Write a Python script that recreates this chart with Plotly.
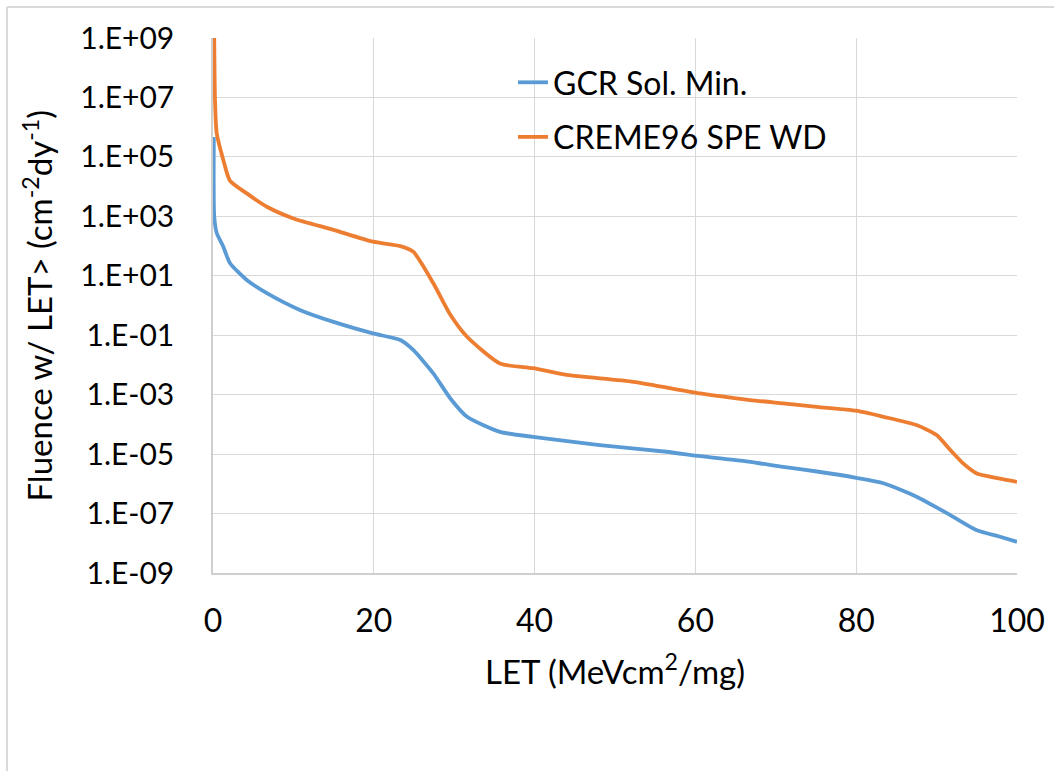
import plotly.graph_objects as go

# LET (MeV cm^2/mg) sample points and integral fluence (cm^-2 d^-1 y^-1)
gcr_let = [0.1, 0.15, 0.46, 1.28, 2.1, 4.2, 6.7, 10.8, 15.0, 19.9, 23.3, 24.9, 27.4,
           29.5, 31.6, 35.7, 39.8, 48.1, 56.4, 60.6, 66.8, 70.9, 75.1, 80.0, 83.4,
           87.5, 91.7, 95.0, 97.9, 100]
gcr_fluence = [4.7e5, 1.0e3, 275, 95, 27, 7.2, 2.6, 0.71, 0.28, 0.115, 0.069, 0.032,
               5.2e-3, 7.6e-4, 1.8e-4, 5.6e-5, 3.8e-5, 2.0e-5, 1.2e-5, 8.5e-6, 5.5e-6,
               3.7e-6, 2.6e-6, 1.6e-6, 1.05e-6, 3.7e-7, 8.9e-8, 2.75e-8, 1.66e-8, 1.12e-8]

spe_let = [0.15, 0.25, 0.46, 1.28, 2.1, 4.2, 6.7, 10.0, 15.0, 19.9, 23.3, 24.9, 27.4,
           29.5, 31.6, 35.7, 39.8, 44.0, 52.3, 60.6, 66.8, 70.9, 75.1, 80.0, 83.4,
           87.5, 90.0, 91.7, 93.3, 95.0, 97.9, 100]
spe_fluence = [1.0e9, 8.1e6, 6.2e5, 7.9e4, 1.6e4, 5.9e3, 2.1e3, 850, 350, 140, 100, 65,
               5.6, 0.5, 0.089, 0.0112, 7.8e-3, 4.6e-3, 2.7e-3, 1.1e-3, 6.6e-4, 5.1e-4,
               3.9e-4, 2.9e-4, 1.8e-4, 9.5e-5, 4.4e-5, 1.38e-5, 4.9e-6, 2.24e-6, 1.5e-6,
               1.17e-6]

series_names = ["GCR Sol. Min.", "CREME96 SPE WD"]
series_colors = ["#5B9BD5", "#ED7D31"]

y_tickvals = [1e-9, 1e-7, 1e-5, 1e-3, 1e-1, 1e1, 1e3, 1e5, 1e7, 1e9]
y_ticktext = ["1.E-09", "1.E-07", "1.E-05", "1.E-03", "1.E-01",
              "1.E+01", "1.E+03", "1.E+05", "1.E+07", "1.E+09"]
x_tickvals = [0, 20, 40, 60, 80, 100]

x_title = "LET (MeVcm<sup>2</sup>/mg)"
y_title = "Fluence w/ LET> (cm<sup>-2</sup>dy<sup>-1</sup>)"

FONT = "Lato"
GRID = "#d9d9d9"

fig = go.Figure()
for i, (xs, ys) in enumerate([(gcr_let, gcr_fluence), (spe_let, spe_fluence)]):
    fig.add_trace(go.Scatter(
        x=xs, y=ys, mode="lines", name=series_names[i],
        legendgroup=series_names[i],
        line=dict(color=series_colors[i], width=3.8, shape="spline", smoothing=0.6),
    ))

W, H = 1054, 771
L, R, T, B = 213, 37, 38, 198
pw, ph = W - L - R, H - T - B


def px_to_paper(px, py):
    return (px - L) / pw, (H - B - py) / ph


# outer frame (top and left edges)
x0, y0 = px_to_paper(7, 7)
x1, _ = px_to_paper(W + 2, 7)
_, y1 = px_to_paper(7, H + 2)
fig.add_shape(type="line", xref="paper", yref="paper", x0=x0, y0=y0, x1=x1, y1=y0,
              line=dict(color=GRID, width=2), layer="below")
fig.add_shape(type="line", xref="paper", yref="paper", x0=x0, y0=y0, x1=x0, y1=y1,
              line=dict(color=GRID, width=2), layer="below")

# vertical axis title, placed in the left margin
tx, _ = px_to_paper(37, 0)
fig.add_annotation(text=y_title, xref="paper", yref="paper", x=tx, y=0.5,
                   xanchor="center", yanchor="middle", textangle=-90,
                   showarrow=False, font=dict(family=FONT, size=33, color="black"))

lx, ly = px_to_paper(513, 55)
fig.update_layout(
    width=W, height=H,
    margin=dict(l=L, r=R, t=T, b=B, autoexpand=False),
    paper_bgcolor="white", plot_bgcolor="white",
    font=dict(family=FONT, size=32, color="black"),
    showlegend=True,
    legend=dict(x=lx, y=ly, xanchor="left", yanchor="top",
                font=dict(family=FONT, size=32, color="black"),
                traceorder="grouped", tracegroupgap=10,
                bgcolor="rgba(0,0,0,0)", borderwidth=0),
    xaxis=dict(
        range=[0, 100], tickvals=x_tickvals, automargin=True,
        showgrid=True, gridcolor=GRID, gridwidth=1,
        showline=True, linecolor="#cfcfcf", linewidth=1.5,
        zeroline=False, ticks="", ticklabelstandoff=19,
        tickfont=dict(family=FONT, size=32),
        title=dict(text=x_title, standoff=23, font=dict(family=FONT, size=33)),
    ),
    yaxis=dict(
        type="log", range=[-9, 9], tickvals=y_tickvals, ticktext=y_ticktext,
        automargin=True,
        showgrid=True, gridcolor=GRID, gridwidth=1,
        showline=True, linecolor="#cfcfcf", linewidth=1.5,
        zeroline=False, ticks="", ticklabelstandoff=31,
        tickfont=dict(family=FONT, size=30),
    ),
)

fig.write_html("out.html")
